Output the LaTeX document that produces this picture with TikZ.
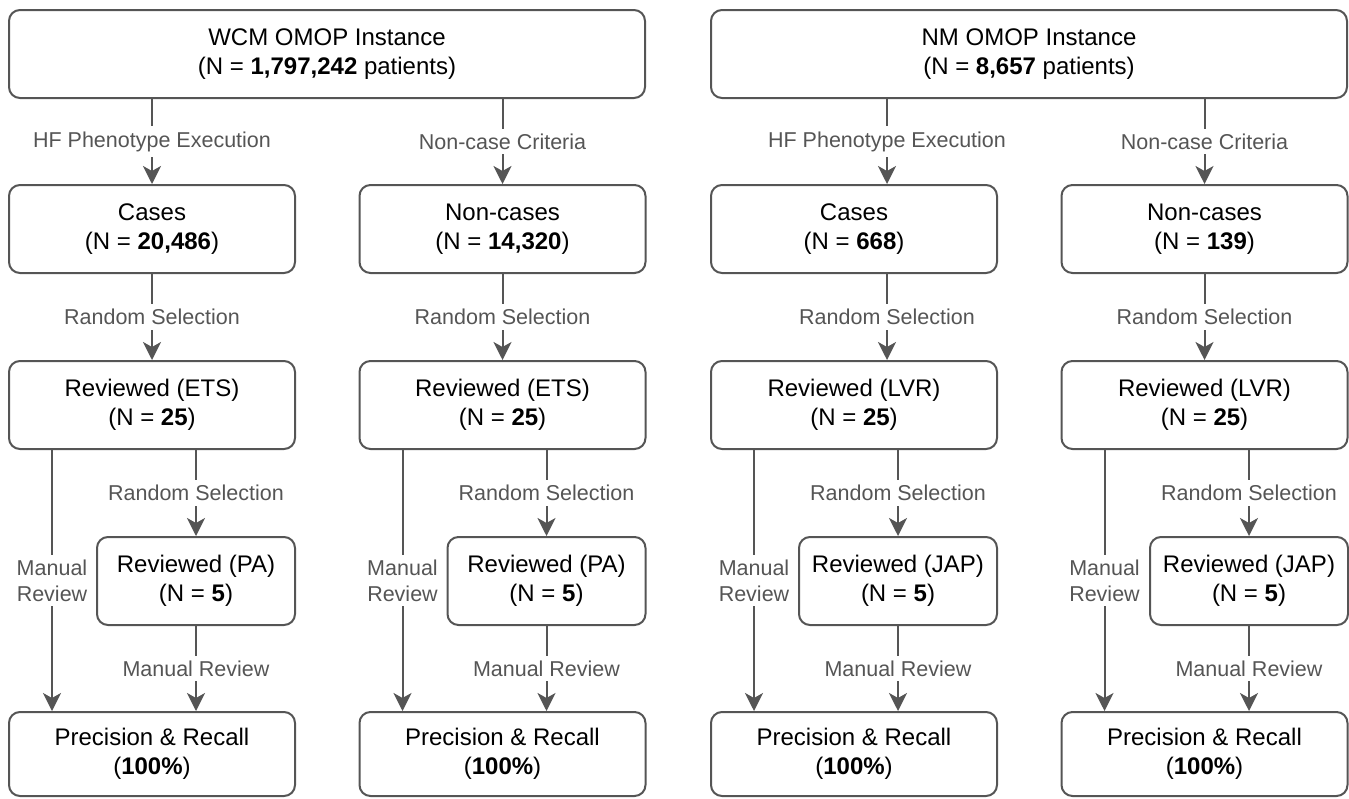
\documentclass[tikz,border=0pt]{standalone}
\usepackage{fontspec}
\setmainfont{Liberation Sans}
\usetikzlibrary{arrows.meta}
\definecolor{linec}{HTML}{555555}
\definecolor{lblc}{HTML}{555555}
\begin{document}
\begin{tikzpicture}[x=1pt,y=-1pt,
  box/.style={draw=linec, line width=2pt, rounded corners=11pt, align=center,
    font=\fontsize{24}{29}\selectfont, text=black, inner sep=0pt},
  wide/.style={box, minimum width=636pt, minimum height=88pt},
  colbox/.style={box, minimum width=286pt, minimum height=88pt},
  subbox/.style={box, minimum width=198pt, minimum height=88pt},
  arr/.style={draw=linec, line width=2pt, -{Stealth[length=18pt,width=18pt,inset=5pt]}},
  lbl/.style={fill=white, text=lblc, font=\fontsize{21.5}{26}\selectfont,
    inner xsep=1pt, inner ysep=5pt, align=center},
]
\useasboundingbox (0,0) rectangle (1349,798);

\node[wide] (wcm) at (327,54) {WCM OMOP Instance\\(N = \textbf{1,797,242} patients)};
\node[wide] (nm) at (1029,54) {NM OMOP Instance\\(N = \textbf{8,657} patients)};

\node[colbox] (cases1) at (152,229) {Cases\\(N = \textbf{20,486})};
\node[colbox] (cases2) at (502.5,229) {Non-cases\\(N = \textbf{14,320})};
\node[colbox] (cases3) at (854,229) {Cases\\(N = \textbf{668})};
\node[colbox] (cases4) at (1204.5,229) {Non-cases\\(N = \textbf{139})};

\node[colbox] (rev1) at (152,405) {Reviewed (ETS)\\(N = \textbf{25})};
\node[colbox] (rev2) at (502.5,405) {Reviewed (ETS)\\(N = \textbf{25})};
\node[colbox] (rev3) at (854,405) {Reviewed (LVR)\\(N = \textbf{25})};
\node[colbox] (rev4) at (1204.5,405) {Reviewed (LVR)\\(N = \textbf{25})};

\node[subbox] (pa1) at (196,581) {Reviewed (PA)\\(N = \textbf{5})};
\node[subbox] (pa2) at (546.5,581) {Reviewed (PA)\\(N = \textbf{5})};
\node[subbox] (pa3) at (898,581) {Reviewed (JAP)\\(N = \textbf{5})};
\node[subbox] (pa4) at (1249,581) {Reviewed (JAP)\\(N = \textbf{5})};

\node[colbox, minimum height=84pt] (prec1) at (152,754) {Precision \& Recall\\(\textbf{100\%})};
\node[colbox, minimum height=84pt] (prec2) at (502.5,754) {Precision \& Recall\\(\textbf{100\%})};
\node[colbox, minimum height=84pt] (prec3) at (854,754) {Precision \& Recall\\(\textbf{100\%})};
\node[colbox, minimum height=84pt] (prec4) at (1204.5,754) {Precision \& Recall\\(\textbf{100\%})};

\foreach \i/\top/\lab/\sh in {1/wcm/HF Phenotype Execution/0,
                              2/wcm/Non-case Criteria/0,
                              3/nm/HF Phenotype Execution/33,
                              4/nm/Non-case Criteria/0}{
  \draw[arr] ([xshift=\sh pt]cases\i.north |- \top.south) -- node[lbl]{\lab} ([xshift=\sh pt]cases\i.north);
  \draw[arr] ([xshift=\sh pt]cases\i.south) -- node[lbl]{Random Selection} ([xshift=\sh pt]rev\i.north);
  \draw[arr] (pa\i.north |- rev\i.south) -- node[lbl]{Random Selection} (pa\i.north);
  \draw[arr] ([xshift=44pt]rev\i.south west) -- node[lbl]{Manual\\Review} ([xshift=44pt]rev\i.south west |- prec\i.north);
  \draw[arr] (pa\i.south) -- node[lbl]{Manual Review} (pa\i.south |- prec\i.north);
}
\end{tikzpicture}
\end{document}
